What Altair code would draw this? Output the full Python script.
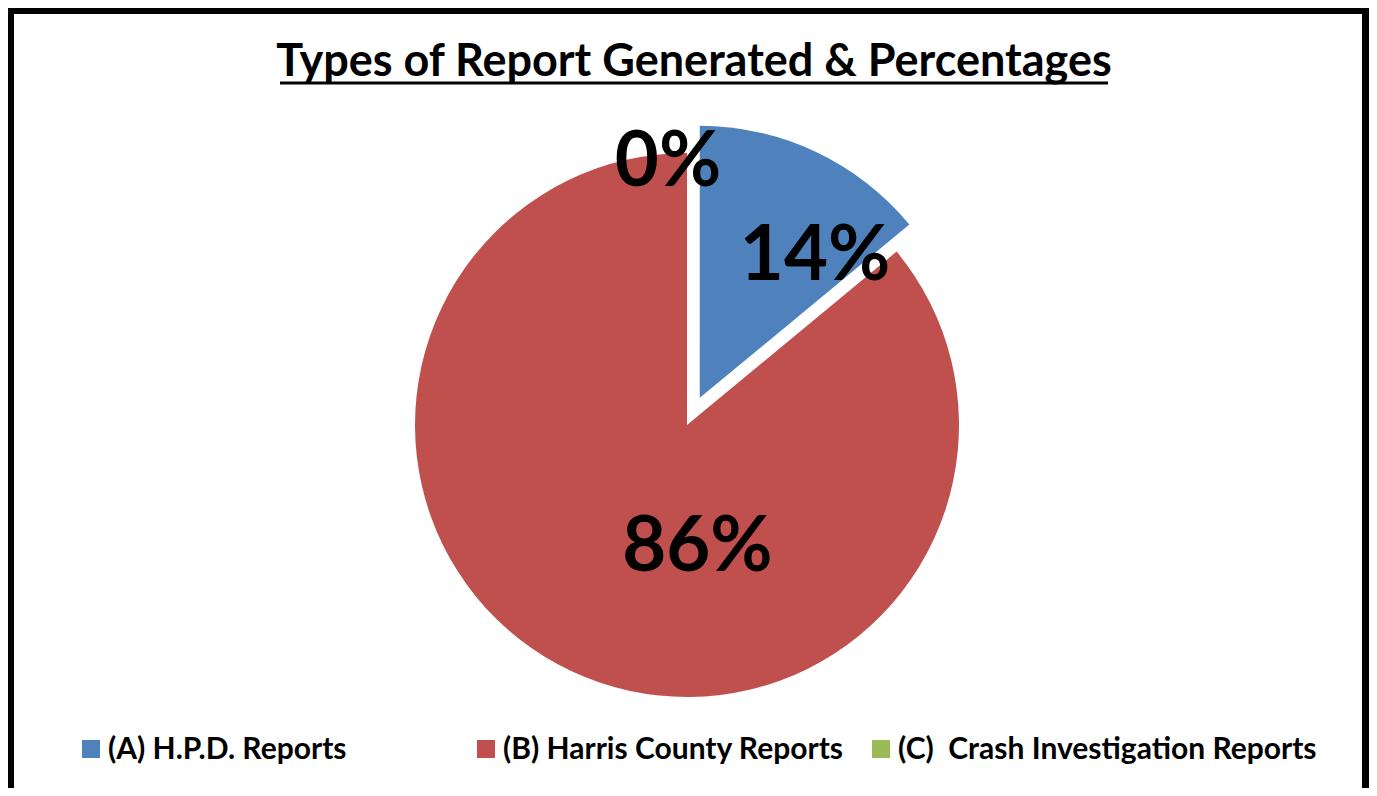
import math
import altair as alt
import pandas as pd

# ---- data ----
categories = ["(A) H.P.D. Reports", "(B) Harris County Reports", "(C)\u00a0 Crash Investigation Reports"]
values = [14, 86, 0]
labels = ["14%", "86%", "0%"]
order = [0, 1, 2]
colors = ["#4F81BD", "#C0504D", "#9BBB59"]
title_text = ["Types of Report Generated & Percentages"]

df = pd.DataFrame({"category": categories, "value": values, "label": labels, "order": order})
one = pd.DataFrame({"k": [0]})

FONT = "Lato"
W, H = 1361, 780
CX, CY = 679, 417
R = 272
EXPLODE = 30

total = sum(values)
mid_a = (values[0] / 2) / total * 2 * math.pi
EX = EXPLODE * math.sin(mid_a)
EY = -EXPLODE * math.cos(mid_a)

base = alt.Chart(df).transform_window(
    cum="sum(value)", sort=[alt.SortField("order")], frame=[None, 0]
).transform_calculate(
    start="datum.cum - datum.value", mid="datum.cum - datum.value / 2"
)

theta_scale = alt.Scale(domain=[0, total], range=[0, 2 * math.pi])
color_scale = alt.Scale(domain=categories, range=colors)
color_enc = alt.Color("category:N", scale=color_scale, legend=None)

arcs_rest = base.transform_filter(alt.datum.category != categories[0]).mark_arc(
    outerRadius=R
).encode(
    x=alt.value(CX), y=alt.value(CY),
    theta=alt.Theta("start:Q", scale=theta_scale, stack=None), theta2="cum:Q",
    color=color_enc,
)

arc_a = base.transform_filter(alt.datum.category == categories[0]).mark_arc(
    outerRadius=R
).encode(
    x=alt.value(CX + EX), y=alt.value(CY + EY),
    theta=alt.Theta("start:Q", scale=theta_scale, stack=None), theta2="cum:Q",
    color=color_enc,
)

def label_layer(idx, radius, dx, dy):
    return base.transform_filter(alt.datum.category == categories[idx]).mark_text(
        radius=radius, dx=dx, dy=dy, font=FONT, fontSize=76, fontWeight="bold",
        color="black", align="center", baseline="middle",
    ).encode(
        x=alt.value(CX), y=alt.value(CY),
        theta=alt.Theta("mid:Q", scale=theta_scale, stack=None),
        text="label:N",
    )

lab_a = label_layer(0, 188, 48, 2)
lab_b = label_layer(1, 133, 67, 3)
lab_c = label_layer(2, 265, -19, 3)

# ---- legend (bottom row) ----
leg_x = alt.X("category:N", scale=alt.Scale(type="point", domain=categories, range=[83, 873], padding=0), axis=None)
leg_sym = alt.Chart(df).mark_square(size=324, opacity=1).encode(
    x=leg_x, y=alt.value(741), color=color_enc,
)
leg_txt = alt.Chart(df).mark_text(
    font=FONT, fontSize=30, fontWeight="bold", color="black",
    align="left", baseline="alphabetic", dx=17,
).encode(x=leg_x, y=alt.value(751), text="category:N")

# ---- title ----
title = alt.Chart(pd.DataFrame({"t": title_text})).mark_text(
    font=FONT, fontSize=45, fontWeight="bold", color="black",
    align="center", baseline="alphabetic",
).encode(x=alt.value(686), y=alt.value(68), text="t:N")

underline = alt.Chart(one).mark_rule(color="black", strokeWidth=3).encode(
    x=alt.value(272), x2=alt.value(1100), y=alt.value(75)
)

# ---- frame ----
frame_left = alt.Chart(one).mark_rule(color="black", strokeWidth=7).encode(
    x=alt.value(2.5), y=alt.value(0), y2=alt.value(H)
)
frame_top = alt.Chart(one).mark_rule(color="black", strokeWidth=7).encode(
    x=alt.value(0), x2=alt.value(W), y=alt.value(2.5)
)
frame_right = alt.Chart(one).mark_rule(color="black", strokeWidth=7).encode(
    x=alt.value(W - 3.5), y=alt.value(0), y2=alt.value(H)
)

chart = alt.layer(
    arcs_rest, arc_a, lab_a, lab_b, lab_c, leg_sym, leg_txt, title, underline,
    frame_left, frame_top, frame_right,
).resolve_scale(x="independent").properties(
    width=W, height=H, autosize=alt.AutoSizeParams(type="none"), padding=0,
    background="white",
).configure_view(stroke=None)

chart.save("out.html", embed_options={"renderer": "svg", "actions": False})
